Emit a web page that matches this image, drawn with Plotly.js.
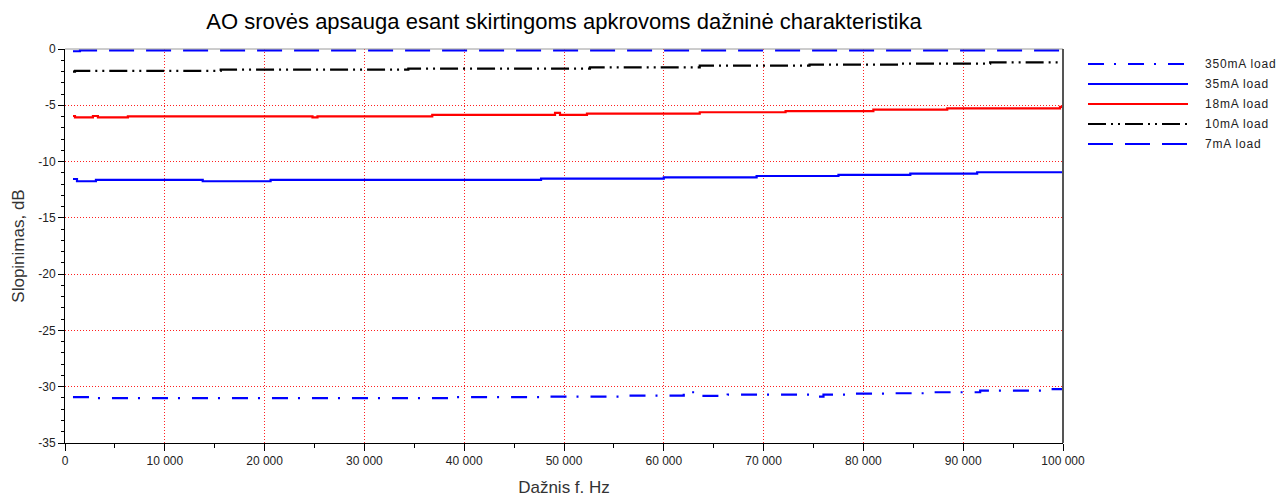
<!DOCTYPE html>
<html>
<head>
<meta charset="utf-8">
<script src="https://cdn.plot.ly/plotly-3.0.1.min.js"></script>
<style>
  html, body { margin: 0; padding: 0; background: #fff; }
  #chart { width: 1277px; height: 497px; }
</style>
</head>
<body>
<div id="chart"></div>
<script>
// Frequency breakpoints (Hz) and attenuation (dB) for each load current.
const f350 = [800, 3300, 39000, 48000, 55800, 62000, 62400, 63500, 66400, 75000, 76000, 78400, 82400, 86400, 91700, 98500, 100000];
const db350 = [-30.92, -31.01, -30.93, -30.88, -30.79, -30.62, -30.49, -30.82, -30.7, -30.88, -30.7, -30.61, -30.58, -30.49, -30.34, -30.22, -30.22];

const f35 = [800, 1200, 3100, 13800, 20600, 47700, 60000, 69300, 77500, 84700, 91400, 100000];
const db35 = [-11.55, -11.75, -11.63, -11.75, -11.63, -11.51, -11.4, -11.28, -11.19, -11.07, -10.95, -10.95];

const f18 = [800, 1000, 2800, 3300, 6300, 24800, 25300, 36800, 49100, 49600, 52300, 63600, 72200, 81000, 88400, 99700, 100000];
const db18 = [-5.95, -6.07, -5.95, -6.07, -5.98, -6.07, -5.98, -5.86, -5.68, -5.86, -5.74, -5.62, -5.51, -5.39, -5.27, -5.15, -5.15];

const f10 = [800, 1000, 15600, 34400, 52600, 63600, 74600, 83500, 92700, 100000];
const db10 = [-2.01, -1.95, -1.84, -1.75, -1.63, -1.48, -1.39, -1.3, -1.18, -1.18];

const f7 = [800, 1500, 100000];
const db7 = [-0.2, -0.12, -0.12];

const seriesNames = ["350mA load", "35mA load", "18mA load", "10mA load", "7mA load"];

const yTickVals = [0, -5, -10, -15, -20, -25, -30, -35];
const yTickText = ["0", "-5", "-10", "-15", "-20", "-25", "-30", "-35"];

// Line styles per series
const styles = [
  { color: "#0000ff", dash: "16px,10px,2px,12px" },
  { color: "#0000ff", dash: "solid" },
  { color: "#ff0000", dash: "solid" },
  { color: "#000000", dash: "18px,5px,2px,5px,2px,5px" },
  { color: "#0000ff", dash: "25px,12px" }
];

const xs = [f350, f35, f18, f10, f7];
const ys = [db350, db35, db18, db10, db7];

const traces = xs.map((x, i) => ({
  x: x,
  y: ys[i],
  type: "scatter",
  mode: "lines",
  name: seriesNames[i],
  line: { color: styles[i].color, dash: styles[i].dash, width: 2.2, shape: "hv" },
  showlegend: false,
  hoverinfo: "skip"
}));

// Plot area geometry (pixels)
const W = 1277, H = 497;
const L = 65, R = 1063, T = 49, B = 443;
const px2x = p => (p - L) / (R - L);
const py2y = p => (B - p) / (B - T);

const FONT = "Liberation Sans, Arial, sans-serif";

// Hand-drawn legend on the right
const shapes = [];
const annotations = [];
const legendY = [64, 84, 104, 124, 144];
seriesNames.forEach((n, i) => {
  shapes.push({
    type: "line", xref: "paper", yref: "paper",
    x0: px2x(1088), x1: px2x(1188), y0: py2y(legendY[i]), y1: py2y(legendY[i]),
    line: { color: styles[i].color, dash: styles[i].dash, width: 2.2 }
  });
  annotations.push({
    xref: "paper", yref: "paper", x: px2x(1203), y: py2y(legendY[i]),
    xanchor: "left", yanchor: "middle", showarrow: false,
    text: '<span style="letter-spacing:0.8px">' + n + '</span>',
    font: { family: FONT, size: 12, color: "#222" }
  });
});

// Frame: top and right edges
shapes.push({
  type: "line", xref: "paper", yref: "paper", x0: 0, x1: 1, y0: 1, y1: 1,
  line: { color: "#9a9a9a", width: 1 }
});
shapes.push({
  type: "line", xref: "paper", yref: "paper", x0: 1, x1: 1, y0: 1, y1: 0,
  line: { color: "#555555", width: 2 }
});

const tickFont = { family: FONT, size: 12, color: "#222" };

const layout = {
  width: W, height: H,
  paper_bgcolor: "#ffffff", plot_bgcolor: "#ffffff",
  margin: { l: L, r: W - R, t: T, b: H - B, pad: 0 },
  separators: ". ",
  title: {
    text: "AO srovės apsauga esant skirtingoms apkrovoms dažninė charakteristika",
    font: { family: FONT, size: 22, color: "#000" },
    x: 0.5, xref: "paper", xanchor: "center",
    y: 1 - 21 / H, yref: "container", yanchor: "middle"
  },
  xaxis: {
    range: [0, 100000],
    tickmode: "linear", tick0: 0, dtick: 10000,
    tickformat: ",d",
    ticks: "outside", ticklen: 7, tickcolor: "#000", tickwidth: 1,
    minor: { dtick: 5000, ticks: "outside", ticklen: 4, tickcolor: "#000", showgrid: false },
    showline: true, linecolor: "#000", linewidth: 1,
    showgrid: true, gridcolor: "#ff2020", griddash: "1px,2px", gridwidth: 1,
    zeroline: false,
    tickfont: tickFont,
    title: {
      text: "Dažnis f. Hz",
      font: { family: FONT, size: 17, color: "#333" },
      standoff: 17
    }
  },
  yaxis: {
    range: [-35, 0],
    tickmode: "array", tickvals: yTickVals, ticktext: yTickText,
    ticks: "outside", ticklen: 6, tickcolor: "#000", tickwidth: 1,
    minor: { dtick: 1, tick0: 0, ticks: "outside", ticklen: 3, tickcolor: "#000", showgrid: false },
    showline: true, linecolor: "#000", linewidth: 1,
    showgrid: true, gridcolor: "#ff2020", griddash: "1px,2px", gridwidth: 1,
    zeroline: false,
    tickfont: tickFont,
    title: {
      text: "Slopinimas, dB",
      font: { family: FONT, size: 17, color: "#333" },
      standoff: 9
    }
  },
  shapes: shapes,
  annotations: annotations,
  showlegend: false
};

Plotly.newPlot("chart", traces, layout, { staticPlot: true, displayModeBar: false });
</script>
</body>
</html>
